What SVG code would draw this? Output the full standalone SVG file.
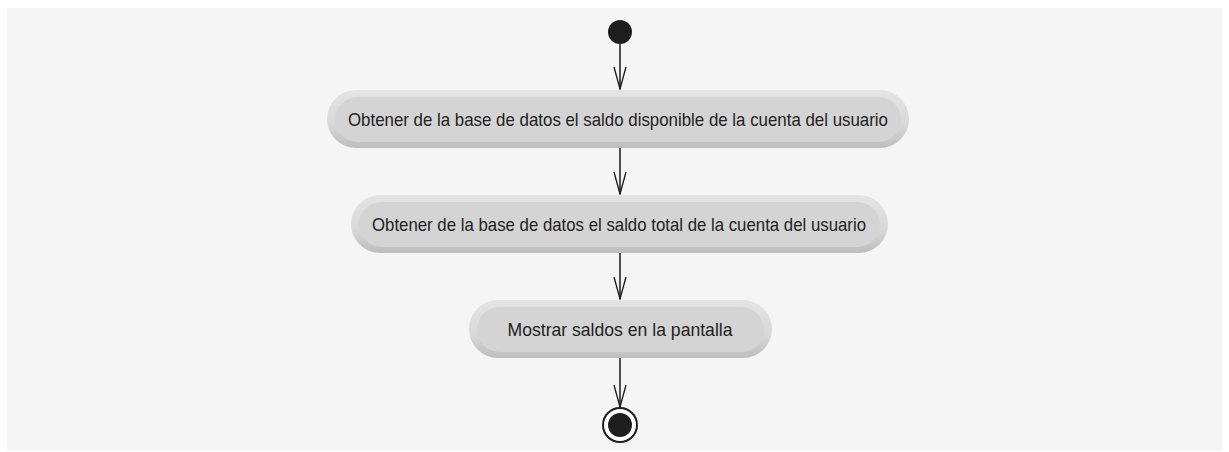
<svg xmlns="http://www.w3.org/2000/svg" width="1229" height="452" viewBox="0 0 1229 452">
<defs>
<linearGradient id="outer" x1="0" y1="0" x2="0" y2="1">
<stop offset="0" stop-color="#e4e4e4"/>
<stop offset="0.6" stop-color="#d8d8d8"/>
<stop offset="1" stop-color="#bdbdbd"/>
</linearGradient>
<marker id="arr" viewBox="0 0 24 14" refX="23" refY="7" markerWidth="24" markerHeight="14" markerUnits="userSpaceOnUse" orient="auto">
<path d="M1,1 L23,7 L1,13" fill="none" stroke="#1a1a1a" stroke-width="1.3"/>
</marker>
</defs>
<style>
.outer{fill:url(#outer);}
.inner{fill:#d4d4d4;}
.lbl{font-family:"Liberation Sans",Arial,sans-serif;font-size:19px;fill:#222;text-anchor:middle;}
.conn{stroke:#1a1a1a;stroke-width:1.5;fill:none;}
</style>
<rect x="7" y="8" width="1215" height="443" fill="#f5f5f5"/>
<g id="start"><circle cx="620" cy="32" r="12" fill="#1e1e1e"/></g>
<g id="node1">
<rect class="outer" x="327" y="90" width="582" height="58" rx="29"/>
<rect class="inner" x="335" y="97" width="566" height="45" rx="22.5"/>
<text class="lbl" x="618" y="126" textLength="540" lengthAdjust="spacingAndGlyphs">Obtener de la base de datos el saldo disponible de la cuenta del usuario</text>
</g>
<g id="node2">
<rect class="outer" x="351" y="195" width="537" height="58" rx="29"/>
<rect class="inner" x="359" y="202" width="521" height="45" rx="22.5"/>
<text class="lbl" x="619" y="231" textLength="494" lengthAdjust="spacingAndGlyphs">Obtener de la base de datos el saldo total de la cuenta del usuario</text>
</g>
<g id="node3">
<rect class="outer" x="469" y="300" width="303" height="58" rx="29"/>
<rect class="inner" x="477" y="307" width="287" height="45" rx="22.5"/>
<text class="lbl" x="620" y="336" textLength="225" lengthAdjust="spacingAndGlyphs">Mostrar saldos en la pantalla</text>
</g>
<g id="end">
<circle cx="620" cy="425" r="17" fill="#fff" stroke="#1e1e1e" stroke-width="2"/>
<circle cx="620" cy="425" r="12" fill="#1e1e1e"/>
</g>
<g id="connectors">
<line class="conn" x1="620" y1="44" x2="620" y2="89" marker-end="url(#arr)"/>
<line class="conn" x1="620" y1="148" x2="620" y2="194" marker-end="url(#arr)"/>
<line class="conn" x1="620" y1="253" x2="620" y2="299" marker-end="url(#arr)"/>
<line class="conn" x1="620" y1="358" x2="620" y2="407" marker-end="url(#arr)"/>
</g>
</svg>
